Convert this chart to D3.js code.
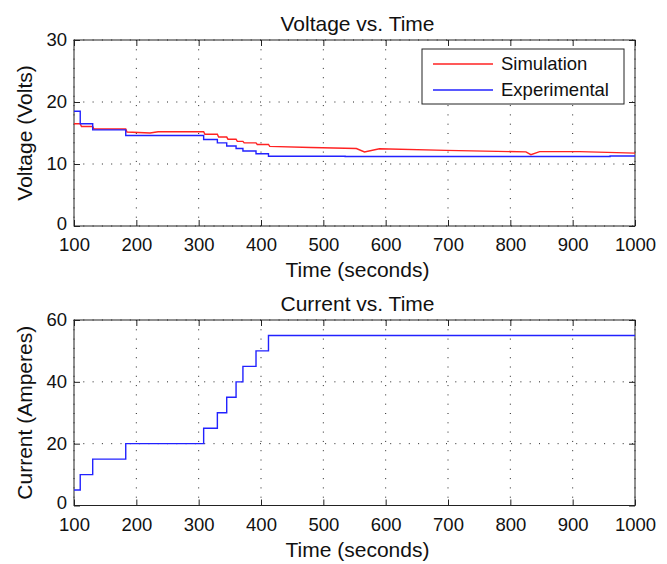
<!DOCTYPE html>
<html>
<head>
<meta charset="utf-8">
<script src="https://cdn.jsdelivr.net/npm/d3@7"></script>
<style>
  body { margin: 0; background: #fff; }
  svg { font-family: "Liberation Sans", Arial, sans-serif; }
</style>
</head>
<body>
<svg id="chart" width="667" height="564"></svg>
<script>
// data
var timeTicks = [100, 200, 300, 400, 500, 600, 700, 800, 900, 1000];
var voltTicks = [0, 10, 20, 30];
var currTicks = [0, 20, 40, 60];

// experimental voltage, steps [time, volts]
var expVoltage = [[100, 18.5], [110, 16.5], [130, 15.5], [183, 14.6], [308, 13.95], [330, 13.4],
  [345, 12.9], [360, 12.5], [371, 12.1], [392, 11.65], [412, 11.25], [535, 11.2], [960, 11.3], [1000, 11.3]];

// simulated voltage [time, volts]
var simVoltage = [[100, 16.5], [110, 16.5], [112, 16.05], [130, 16.05], [132, 15.65], [183, 15.65],
  [185, 15.15], [222, 15.0], [235, 15.2], [308, 15.2], [310, 14.8], [330, 14.8], [332, 14.35],
  [345, 14.35], [347, 14.0], [360, 14.0], [362, 13.65], [371, 13.65], [373, 13.4], [392, 13.4],
  [394, 13.15], [412, 13.15], [414, 12.85], [480, 12.65], [553, 12.5], [566, 11.95], [590, 12.45],
  [697, 12.2], [825, 11.95], [833, 11.5], [847, 12.0], [911, 12.0], [1000, 11.75]];

// experimental current, steps [time, amps]
var current = [[100, 5], [110, 10], [130, 15], [183, 20], [308, 25], [330, 30], [345, 35],
  [360, 40], [371, 45], [392, 50], [412, 55], [1000, 55]];

var legendItems = [{name: 'Simulation', color: '#ff2222'}, {name: 'Experimental', color: '#2222ff'}];

var svg = d3.select('#chart');
var left = 74, right = 635;

function panel(top, bottom, yTicks, title, yLabel) {
  var x = d3.scaleLinear().domain([100, 1000]).range([left, right]);
  var y = d3.scaleLinear().domain([yTicks[0], yTicks[yTicks.length - 1]]).range([bottom, top]);
  var g = svg.append('g');

  // dotted grid
  g.selectAll('.vgrid').data(timeTicks).enter().append('line')
    .attr('x1', d => x(d)).attr('x2', d => x(d))
    .attr('y1', top).attr('y2', bottom)
    .attr('stroke', '#222').attr('stroke-dasharray', '1,8.3');
  g.selectAll('.hgrid').data(yTicks).enter().append('line')
    .attr('x1', left).attr('x2', right)
    .attr('y1', d => y(d)).attr('y2', d => y(d))
    .attr('stroke', '#222').attr('stroke-dasharray', '1,8.3');

  // axes with inward ticks
  var xa = g.append('g').attr('transform', 'translate(0,' + bottom + ')')
    .call(d3.axisBottom(x).tickValues(timeTicks).tickFormat(d3.format('d'))
      .tickSizeInner(-6).tickSizeOuter(0).tickPadding(12));
  var xt = g.append('g').attr('transform', 'translate(0,' + top + ')')
    .call(d3.axisTop(x).tickValues(timeTicks).tickSizeInner(-6).tickSizeOuter(0).tickFormat(''));
  var ya = g.append('g').attr('transform', 'translate(' + left + ',0)')
    .call(d3.axisLeft(y).tickValues(yTicks).tickSizeInner(-6).tickSizeOuter(0).tickPadding(7));
  var yr = g.append('g').attr('transform', 'translate(' + right + ',0)')
    .call(d3.axisRight(y).tickValues(yTicks).tickSizeInner(-6).tickSizeOuter(0).tickFormat(''));
  [xa, xt, ya, yr].forEach(a => {
    a.select('.domain').remove();
    a.selectAll('line').attr('stroke', '#222');
    a.selectAll('text').attr('font-size', '18.5px').attr('fill', '#111')
      .attr('font-family', '"Liberation Sans", Arial, sans-serif');
  });
  // keep the bottom "0" clear of the first time label
  ya.selectAll('text').filter(d => d === yTicks[0]).attr('dy', '0.18em');

  g.append('rect').attr('x', left).attr('y', top)
    .attr('width', right - left).attr('height', bottom - top)
    .attr('fill', 'none').attr('stroke', '#222');

  g.append('text').attr('x', (left + right) / 2 + 3).attr('y', top - 9)
    .attr('text-anchor', 'middle').attr('font-size', '21px').attr('fill', '#111').text(title);
  g.append('text').attr('x', (left + right) / 2 + 3).attr('y', bottom + 51)
    .attr('text-anchor', 'middle').attr('font-size', '21px').attr('fill', '#111').text('Time (seconds)');
  g.append('text').attr('transform', 'translate(32,' + (top + bottom) / 2 + ') rotate(-90)')
    .attr('text-anchor', 'middle').attr('font-size', '21px').attr('fill', '#111').text(yLabel);

  return {g: g, x: x, y: y};
}

// voltage panel
var p1 = panel(40, 226, voltTicks, 'Voltage vs. Time', 'Voltage (Volts)');
var stepLine1 = d3.line().x(d => p1.x(d[0])).y(d => p1.y(d[1])).curve(d3.curveStepAfter);
var line1 = d3.line().x(d => p1.x(d[0])).y(d => p1.y(d[1]));
p1.g.append('path').attr('d', line1(simVoltage))
  .attr('fill', 'none').attr('stroke', legendItems[0].color).attr('stroke-width', 1.4);
p1.g.append('path').attr('d', stepLine1(expVoltage))
  .attr('fill', 'none').attr('stroke', legendItems[1].color).attr('stroke-width', 1.4);

// legend
var lg = p1.g.append('g').attr('transform', 'translate(422,49)');
lg.append('rect').attr('width', 202).attr('height', 55)
  .attr('fill', '#fff').attr('stroke', '#222');
var li = lg.selectAll('.item').data(legendItems).enter().append('g')
  .attr('transform', (d, i) => 'translate(0,' + (15 + i * 26) + ')');
li.append('line').attr('x1', 11).attr('x2', 71)
  .attr('stroke', d => d.color).attr('stroke-width', 1.4);
li.append('text').attr('x', 79).attr('dy', '0.35em')
  .attr('font-size', '18.5px').attr('fill', '#111').text(d => d.name);

// current panel
var p2 = panel(320, 505.5, currTicks, 'Current vs. Time', 'Current (Amperes)');
var stepLine2 = d3.line().x(d => p2.x(d[0])).y(d => p2.y(d[1])).curve(d3.curveStepAfter);
p2.g.append('path').attr('d', stepLine2(current))
  .attr('fill', 'none').attr('stroke', legendItems[1].color).attr('stroke-width', 1.4);
</script>
</body>
</html>
